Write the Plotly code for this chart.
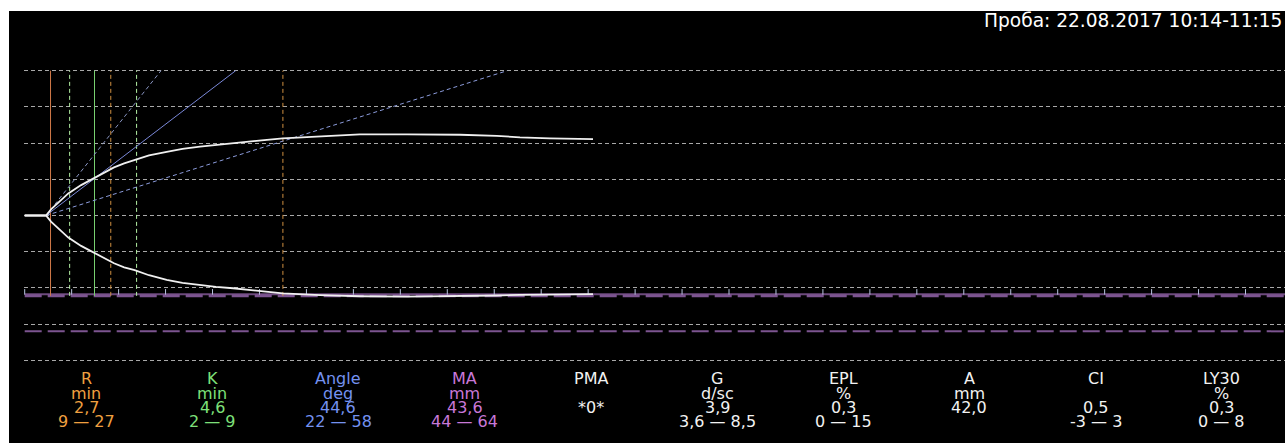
import numpy as np
import plotly.graph_objects as go

# ---------------- data ----------------
# TEG trace: time (min) and half-amplitude (mm) of the upper and lower branch
curve_t = [0.0, 2.23, 2.75, 3.6, 4.56, 5.9, 7.22, 8.3, 9.34, 10.4, 11.5, 13.0, 14.85,
           16.5, 18.33, 20.0, 21.78, 24.5, 26.98, 30.88, 35.06, 40.0, 45.52, 49.36,
           51.79, 54.93, 59.43]
curve_up = [0.0, 0.0, 1.7, 3.9, 6.1, 8.4, 10.3, 11.9, 13.3, 14.4, 15.3, 16.6, 17.6,
            18.4, 19.0, 19.5, 19.9, 20.7, 21.3, 21.9, 22.4, 22.4, 22.3, 22.0,
            21.6, 21.3, 21.1]
curve_low = [0.0, 0.0, -1.7, -3.9, -6.1, -8.4, -10.2, -11.8, -13.2, -14.3, -15.1, -16.5, -17.8,
             -18.6, -19.2, -19.7, -20.1, -20.9, -21.5, -22.0, -22.3, -22.4, -22.3, -22.1,
             -21.9, -21.8, -21.7]

# Parameter values
R_val = 2.7
K_val = 4.6
R_range = [9, 27]
K_range = [2, 9]
MA_range = [44, 64]

# Angle lines: start time and time at which they reach +40 mm
angle_start_t = 2.23
angle_end_t = {"solid": 22.06, "steep": 14.25, "shallow": 50.46}
angle_end_y = 40

# time marks along the MA lower limit line
tick_step = 4.91
tick_count = 27

grid_mm = [-40, -30, -20, -10, 0, 10, 20, 30, 40]

title_text = "Проба: 22.08.2017 10:14-11:15"

label_names = ["R", "K", "Angle", "MA", "PMA", "G", "EPL", "A", "CI", "LY30"]
label_units = ["min", "min", "deg", "mm", "", "d/sc", "%", "mm", "", "%"]
label_values = ["2,7", "4,6", "44,6", "43,6", "*0*", "3,9", "0,3", "42,0", "0,5", "0,3"]
label_ranges = ["9 — 27", "2 — 9", "22 — 58", "44 — 64", "", "3,6 — 8,5", "0 — 15", "", "-3 — 3", "0 — 8"]

# ---------------- styles / geometry ----------------
label_colors = ["#f0a040", "#7ee07a", "#7492f0", "#c878d8", "#f2f2f2", "#f2f2f2",
                "#f2f2f2", "#f2f2f2", "#f2f2f2", "#f2f2f2"]
FONT = "DejaVu Sans, Verdana, sans-serif"

W, H = 1285, 443
ML, MT = 24, 11
BLACK_LEFT = 9
plot_w = W - ML
plot_h = H - MT
px_per_min = 9.563
x0_px = 24.7
px_per_mm = 3.62
y0_px = 215.5

x_lo = (ML - x0_px) / px_per_min
x_hi = (W - x0_px) / px_per_min
y_hi = (y0_px - MT) / px_per_mm
y_lo = -(H - y0_px) / px_per_mm

fig = go.Figure()

# MA limit lines
ma_lo = -MA_range[0] / 2
ma_hi = -MA_range[1] / 2
fig.add_trace(go.Scatter(x=[0, x_hi], y=[ma_lo + 0.25, ma_lo + 0.25], mode="lines",
                         line=dict(color="#6c4a7c", width=2), hoverinfo="skip"))
fig.add_trace(go.Scatter(x=[0, x_hi], y=[ma_lo - 0.2, ma_lo - 0.2], mode="lines",
                         line=dict(color="#7c5490", width=3, dash="17px,6px"), hoverinfo="skip"))
fig.add_trace(go.Scatter(x=[0, x_hi], y=[ma_hi, ma_hi], mode="lines",
                         line=dict(color="#7c5490", width=2, dash="17px,6px"), hoverinfo="skip"))

# small time marks on the MA line
ticks_t = np.arange(tick_count) * tick_step
fig.add_trace(go.Scatter(x=ticks_t, y=[ma_lo + 0.9] * tick_count, mode="markers",
                         marker=dict(symbol="line-ns", size=4,
                                     line=dict(color="#b8c4e0", width=1)),
                         hoverinfo="skip"))

# vertical reference lines
vlines = [
    (R_val, "#d07848", "solid"),
    (R_val + K_range[0], "#b4f0a4", "4px,3px"),
    (R_val + K_val, "#78d070", "solid"),
    (R_range[0], "#d09040", "4px,3px"),
    (R_val + K_range[1], "#b4f0a4", "4px,3px"),
    (R_range[1], "#d09040", "4px,3px"),
]
for t, c, d in vlines:
    fig.add_trace(go.Scatter(x=[t, t], y=[ma_lo - 0.2, angle_end_y], mode="lines",
                             line=dict(color=c, width=1, dash=d), hoverinfo="skip"))

# angle lines
fig.add_trace(go.Scatter(x=[angle_start_t, angle_end_t["steep"]], y=[0, angle_end_y], mode="lines",
                         line=dict(color="#8a96c4", width=1, dash="4px,3px"), hoverinfo="skip"))
fig.add_trace(go.Scatter(x=[angle_start_t, angle_end_t["shallow"]], y=[0, angle_end_y], mode="lines",
                         line=dict(color="#8c9cdc", width=1, dash="4px,3px"), hoverinfo="skip"))
fig.add_trace(go.Scatter(x=[angle_start_t, angle_end_t["solid"]], y=[0, angle_end_y], mode="lines",
                         line=dict(color="#7a88d8", width=1), hoverinfo="skip"))

# TEG curve
fig.add_trace(go.Scatter(x=curve_t, y=curve_up, mode="lines",
                         line=dict(color="#f0f0f0", width=1.8), hoverinfo="skip"))
fig.add_trace(go.Scatter(x=curve_t, y=curve_low, mode="lines",
                         line=dict(color="#f0f0f0", width=1.8), hoverinfo="skip"))

# black strip left of the plot area
fig.add_shape(type="rect", xref="paper", yref="paper",
              x0=-(ML - BLACK_LEFT) / plot_w, x1=0, y0=-0.01, y1=1,
              fillcolor="black", line=dict(width=0), layer="below")

annotations = [dict(text=title_text, xref="paper", yref="paper", x=1, xanchor="right", xshift=-1,
                    y=1 - (20 - MT) / plot_h, yanchor="middle", showarrow=False,
                    font=dict(family=FONT, size=18.6, color="white"))]

col_first_px = 86
col_step_px = 126.2
row_px = [378.5, 393, 407.5, 421.5]
for i, name in enumerate(label_names):
    xc = (col_first_px + i * col_step_px - ML) / plot_w
    rows = [name, label_units[i], label_values[i], label_ranges[i]]
    for r, txt in enumerate(rows):
        if not txt:
            continue
        annotations.append(dict(text=txt, xref="paper", yref="paper", x=xc, xanchor="center",
                                y=1 - (row_px[r] - MT) / plot_h, yanchor="middle",
                                showarrow=False,
                                font=dict(family=FONT, size=16, color=label_colors[i])))

fig.update_layout(
    width=W, height=H,
    margin=dict(l=ML, r=0, t=MT, b=0, pad=0),
    paper_bgcolor="white", plot_bgcolor="black",
    showlegend=False,
    annotations=annotations,
    xaxis=dict(range=[x_lo, x_hi], showgrid=False, zeroline=False, showticklabels=False,
               ticks="", showline=False, fixedrange=True),
    yaxis=dict(range=[y_lo, y_hi], tickvals=grid_mm,
               showgrid=True, gridcolor="#a8a8a8", gridwidth=1, griddash="4px,3px",
               zeroline=False, showticklabels=False, ticks="", showline=False, fixedrange=True),
)

fig.write_html(
    "out.html",
    config={"displayModeBar": False},
    post_script="document.body.style.margin='0';document.body.style.overflow='hidden';"
                "document.documentElement.style.overflow='hidden';",
)
